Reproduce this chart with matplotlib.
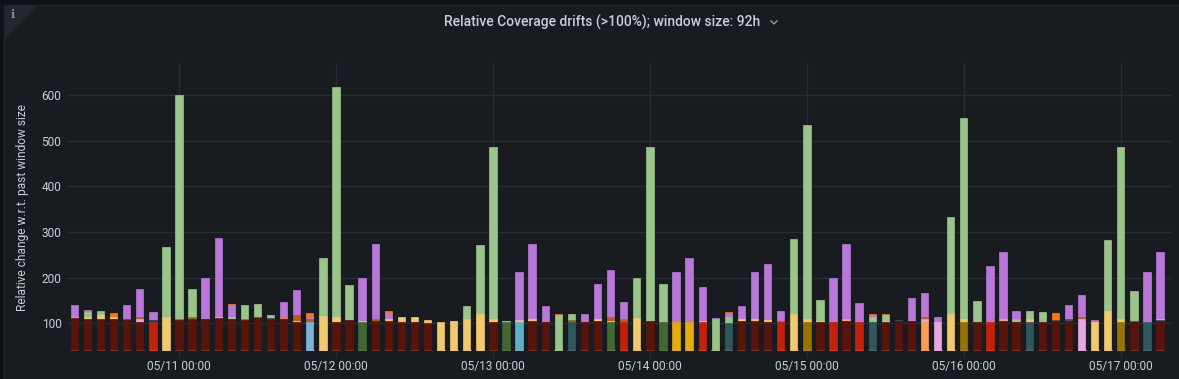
#!/usr/bin/env python3
"""Grafana style stacked bars of relative coverage drift per 2h slot."""

import matplotlib

matplotlib.use("Agg")
import matplotlib.colors as mcolors
import matplotlib.pyplot as plt
import numpy as np

plt.rcParams["font.family"] = ["Roboto", "DejaVu Sans"]

# hours relative to 05/11 00:00, one slot every 2h
hours = [h for h in range(-16, 152, 2)]

# bottom series of each slot and where it ends
base_series = list("DDDDDDRYDDDDDDDDDDBYDDGDDDDDYYYYDGCDDETDDGRYDGAAREDDDDRYODRDRTDDDFLYODRDDTDDDLYYODTD")
base_series[49:54] = list("ETDDD")
base_tops = [112, 110, 110, 110, 108, 104, 103, 114, 108, 110, 110, 112, 109, 108, 111, 109, 110, 103, 104, 116,
             103, 107, 103, 106, 105, 102, 102, 101, 104, 105, 109, 120, 102, 102, 102, 105, 102, 118, 102, 102,
             106, 102, 102, 111, 105, 102, 102, 102, 102, 109, 101, 106, 106, 102, 102, 120, 104, 104, 104, 105,
             102, 104, 104, 106, 106, 102, 102, 120, 104, 102, 102, 105, 102, 102, 104, 106, 106, 109, 104, 128,
             104, 104, 102, 105]

# series stacked above the base of each slot and where each of them ends
upper_series = [
    "EP", "YEP", "YE", "YK", "TP", "LSP", "NP", "E", "OE", "OE", "P", "LP", "EPK", "OE", "TE", "TE", "KP", "YSP",
    "SPK", "E", "YE", "E", "YP", "OP", "YPK", "Y", "Y", "Y", "", "K", "E", "E", "YE", "CY", "YP", "YP", "GP", "K",
    "OE", "TP", "YP", "YSP", "SP", "E", "E", "E", "P", "P", "YP", "P", "EPK", "YP", "YP", "YKP", "SP", "E", "YE",
    "YE", "P", "MP", "P", "EPK", "YEK", "T", "P", "LSP", "YP", "E", "YE", "E", "YP", "MP", "OEP", "YE", "E", "TK",
    "TP", "SP", "P", "E", "YE", "TE", "YP", "TLP",
]
upper_tops = [
    [114, 141], [113, 124, 130], [118, 128], [114, 122], [109, 141], [109, 115, 176], [107, 124], [267], [110, 600],
    [114, 176], [200], [114, 287], [113, 140, 142], [110, 141], [113, 143], [111, 119], [111, 146], [106, 119, 172],
    [110, 114, 122], [243], [114, 617], [184], [105, 200], [109, 273], [109, 123, 126], [113], [113], [108], [],
    [106], [137], [271], [109, 485], [104, 106], [107, 212], [109, 273], [104, 137], [120], [107, 120], [104, 120],
    [109, 187], [106, 115, 217], [109, 146], [199], [485], [187], [212], [243], [106, 179], [111], [115, 122, 124],
    [110, 139], [110, 212], [107, 109, 230], [106, 126], [284], [109, 534], [106, 152], [199], [109, 273], [144],
    [113, 119, 121], [106, 119, 121], [108], [155], [109, 115, 167], [104, 113], [333], [109, 549], [150], [104, 226],
    [109, 256], [104, 109, 128], [109, 126], [124], [108, 122], [110, 141], [113, 163], [108], [282], [109, 485],
    [106, 170], [104, 212], [108, 110, 256],
]

tick_hours = [0, 24, 48, 72, 96, 120, 144]
tick_labels = ["05/11 00:00", "05/12 00:00", "05/13 00:00", "05/14 00:00", "05/15 00:00", "05/16 00:00", "05/17 00:00"]
y_ticks = [100, 200, 300, 400, 500, 600]

layer_colors = {
    "D": "#58140c", "R": "#c4210a", "Y": "#f2c96d", "G": "#3f6833", "B": "#7eb2d9", "C": "#5cb0c9",
    "E": "#9ac48a", "P": "#b877d9", "O": "#967302", "S": "#c15c17", "T": "#2f575e", "A": "#e5ac0e",
    "K": "#ff780a", "L": "#e5a8e2", "M": "#f2a58a", "N": "#0a437c", "F": "#ff9c50",
}

W, H = 1179, 379
text_color = "#c7d0d9"
grid_color = "#2a2d33"

fig = plt.figure(figsize=(W / 100, H / 100), dpi=100, facecolor="#111217")

# panel background, info corner and title live in pixel coords
bg = fig.add_axes([0, 0, 1, 1])
bg.set_xlim(0, W)
bg.set_ylim(H, 0)
bg.axis("off")
bg.add_patch(plt.Rectangle((4, 5), W, H, facecolor="#181b1f", edgecolor="#24272d", linewidth=1))
bg.add_patch(plt.Polygon([(5, 6), (37, 6), (5, 38)], facecolor="#24272d", edgecolor="none"))
bg.text(12.5, 15, "i", color="#8e9096", fontsize=8, fontweight="bold", family="DejaVu Serif", ha="center", va="center")
bg.text(602.5, 22, "Relative Coverage drifts (>100%); window size: 92h", color=text_color, fontsize=10.0,
        fontweight="medium", ha="center", va="center")
bg.plot([771, 774, 777], [21, 24, 21], color="#9a9ca2", linewidth=1)

ax = fig.add_axes([67 / W, 1 - 350.8 / H, (1172 - 67) / W, (350.8 - 63.3) / H])
ax.patch.set_alpha(0)
ax.set_xlim((67 - 179) / 6.54, (1172 - 179) / 6.54)
ax.set_ylim(40, 669)

ax.set_axisbelow(True)
ax.grid(True, color=grid_color, linewidth=1)
ax.set_xticks(tick_hours, tick_labels)
ax.set_yticks(y_ticks)
ax.tick_params(axis="x", length=5, width=1, color=grid_color, labelcolor=text_color, labelsize=8.6, pad=1.5)
ax.tick_params(axis="y", length=0, labelcolor=text_color, labelsize=8.6, pad=4)
for spine in ax.spines.values():
    spine.set_visible(False)
ax.set_ylabel("Relative change w.r.t. past window size", color=text_color, fontsize=8.55, labelpad=9)

width = 1.12
for hour, kind, base_top, kinds, tops in zip(hours, base_series, base_tops, upper_series, upper_tops):
    stack_kinds = [kind] + list(kinds)
    stack_tops = [base_top] + tops
    bottoms = [40] + stack_tops[:-1]
    # top segment first so lower ones cover its rounded edge
    for k, low, high in reversed(list(zip(stack_kinds, bottoms, stack_tops))):
        ax.bar(hour, high - low, bottom=low, width=width, color=layer_colors[k], edgecolor=layer_colors[k],
               linewidth=0.5, joinstyle="round", zorder=3)
    light = np.array(mcolors.to_rgb(layer_colors[kind])) * 0.8 + 0.2 * np.array([1.0, 0.6, 0.4])
    ax.hlines(41.5, hour - width / 2 - 0.05, hour + width / 2 + 0.05, color=light, linewidth=1, zorder=4)

fig.savefig("out.png", dpi=100, facecolor=fig.get_facecolor())
